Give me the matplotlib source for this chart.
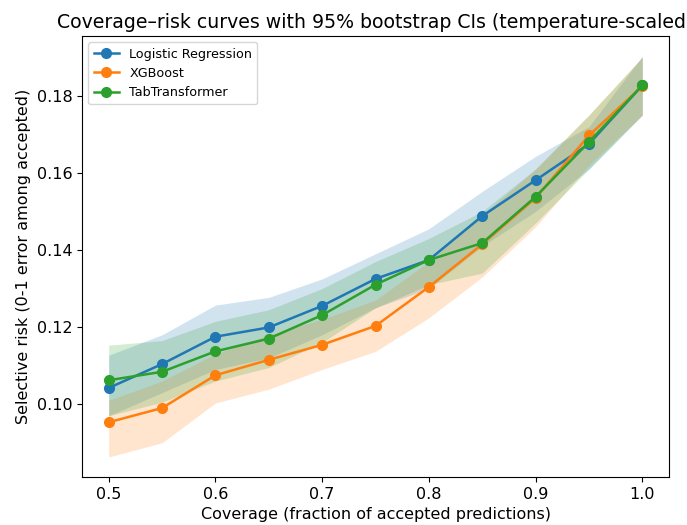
import matplotlib
matplotlib.use("Agg")
from matplotlib import pyplot as plt

coverage = [0.5, 0.55, 0.6, 0.65, 0.7, 0.75, 0.8, 0.85, 0.9, 0.95, 1.0]

lr_risk = [0.1042, 0.1104, 0.1175, 0.1199, 0.1255, 0.1325, 0.1374, 0.1488, 0.1581, 0.1675, 0.1827]
lr_low = [0.0970, 0.1030, 0.1090, 0.1120, 0.1180, 0.1250, 0.1300, 0.1410, 0.1500, 0.1610, 0.1750]
lr_high = [0.1127, 0.1180, 0.1257, 0.1277, 0.1325, 0.1390, 0.1455, 0.1552, 0.1643, 0.1720, 0.1903]

xgb_risk = [0.0953, 0.0990, 0.1075, 0.1115, 0.1154, 0.1203, 0.1304, 0.1415, 0.1535, 0.1697, 0.1825]
xgb_low = [0.0863, 0.0900, 0.1003, 0.1039, 0.1090, 0.1137, 0.1224, 0.1330, 0.1460, 0.1620, 0.1750]
xgb_high = [0.1010, 0.1060, 0.1130, 0.1180, 0.1220, 0.1270, 0.1370, 0.1490, 0.1610, 0.1750, 0.1900]

tt_risk = [0.1062, 0.1084, 0.1137, 0.1170, 0.1231, 0.1310, 0.1374, 0.1418, 0.1538, 0.1680, 0.1827]
tt_low = [0.0970, 0.1005, 0.1060, 0.1095, 0.1160, 0.1250, 0.1310, 0.1340, 0.1470, 0.1610, 0.1750]
tt_high = [0.1153, 0.1165, 0.1215, 0.1245, 0.1300, 0.1370, 0.1430, 0.1500, 0.1610, 0.1750, 0.1900]

models = ["Logistic Regression", "XGBoost", "TabTransformer"]
risks = [lr_risk, xgb_risk, tt_risk]
lows = [lr_low, xgb_low, tt_low]
highs = [lr_high, xgb_high, tt_high]
colors = ["#1f77b4", "#ff7f0e", "#2ca02c"]

fig = plt.figure(figsize=(6.87, 5.25), dpi=100)
ax = fig.add_axes([0.1194, 0.0914, 0.8544, 0.84])

for name, r, lo, hi, c in zip(models, risks, lows, highs, colors):
    ax.fill_between(coverage, lo, hi, color=c, alpha=0.2, linewidth=0)
    ax.plot(coverage, r, marker="o", color=c, label=name, linewidth=1.8, markersize=7)

ax.set_title("Coverage\u2013risk curves with 95% bootstrap CIs (temperature-scaled)", fontsize=13.6)
ax.set_xlabel("Coverage (fraction of accepted predictions)", fontsize=11.5)
ax.set_ylabel("Selective risk (0-1 error among accepted)", fontsize=11.5)
ax.tick_params(labelsize=11.5)
ax.set_yticks([0.10, 0.12, 0.14, 0.16, 0.18])
ax.legend(loc="upper left", fontsize=9.2)

fig.savefig("out.png", dpi=100)
